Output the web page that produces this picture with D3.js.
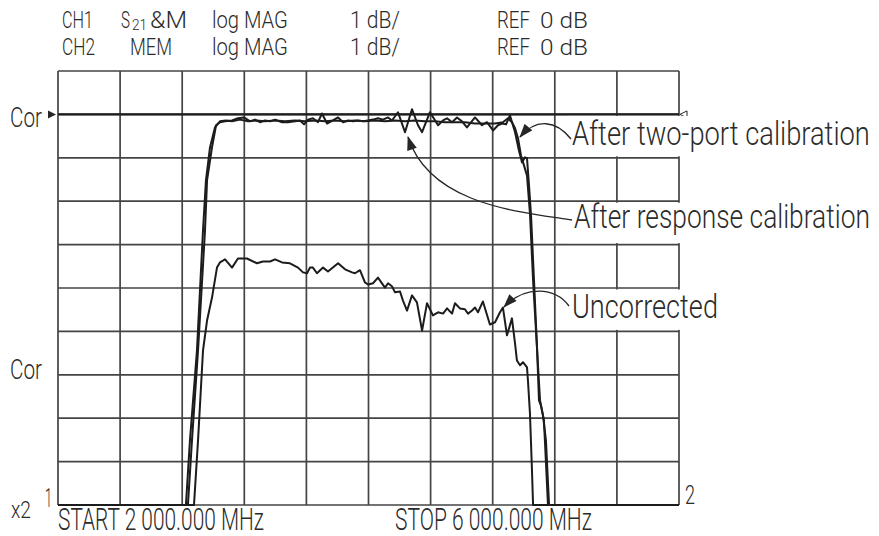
<!DOCTYPE html>
<html><head><meta charset="utf-8">
<script src="https://cdn.jsdelivr.net/npm/d3@7/dist/d3.min.js"></script>
<style>
body{margin:0;background:#fff}
svg{display:block}
text{font-family:Roboto,"Liberation Sans",sans-serif;font-weight:300;fill:#2b2b2b}
</style>
</head><body>
<svg id="chart" width="879" height="536"></svg>
<script>
// ---------- data ----------
const startMHz = 2000, stopMHz = 6000;
const freqGridMHz = [2000, 2400, 2800, 3200, 3600, 4000, 4400, 4800, 5200, 5600, 6000];
const dbGrid = [-9, -8, -7, -6, -5, -4, -3, -2, -1, 0, 1];
const ch1RefDb = 0;
const ch2RefDb = -6;
const bottomDb = -9;

// CH1 S21 after two-port calibration (dB vs MHz)
const twoPortMHz = [2000, 2824, 2850, 2895, 2934, 2953, 2979, 3011, 3043, 3082, 3121, 3172, 3224, 3275, 3333, 3398, 3462, 3527, 3591, 3655, 3720, 3784, 3849, 3913, 3977, 4042, 4106, 4171, 4235, 4299, 4364, 4428, 4493, 4557, 4621, 4686, 4750, 4815, 4866, 4898, 4924, 4944, 4963, 4982, 5002, 5021, 5040, 5060, 5085, 5105, 5130, 5156, 6000];
const twoPortDb = [-9, -9, -7.51, -5.44, -2.67, -1.52, -0.76, -0.30, -0.16, -0.14, -0.16, -0.12, -0.16, -0.14, -0.16, -0.14, -0.16, -0.14, -0.16, -0.14, -0.16, -0.14, -0.16, -0.14, -0.16, -0.14, -0.16, -0.14, -0.16, -0.14, -0.16, -0.16, -0.18, -0.18, -0.18, -0.21, -0.21, -0.21, -0.18, -0.09, -0.18, -0.32, -0.55, -0.94, -1.18, -1.41, -2.28, -3.82, -5.37, -6.59, -7.05, -9, -9];

// CH1 after response calibration
const responseMHz = [2000, 2837, 2863, 2902, 2947, 2960, 2992, 3018, 3043, 3076, 3121, 3159, 3198, 3237, 3269, 3301, 3333, 3366, 3398, 3443, 3481, 3527, 3559, 3585, 3610, 3642, 3675, 3700, 3733, 3771, 3804, 3836, 3868, 3900, 3932, 3965, 3997, 4029, 4061, 4093, 4126, 4151, 4190, 4235, 4280, 4319, 4345, 4396, 4448, 4480, 4506, 4538, 4570, 4602, 4634, 4686, 4731, 4763, 4802, 4834, 4860, 4886, 4911, 4944, 4969, 4989, 5008, 5021, 5034, 5047, 5066, 5085, 5098, 5111, 5124, 5143, 5163, 6000];
const responseDb = [-9, -9, -7.51, -5.44, -2.67, -1.52, -0.76, -0.25, -0.18, -0.16, -0.14, -0.09, -0.07, -0.16, -0.12, -0.18, -0.14, -0.16, -0.12, -0.18, -0.18, -0.16, -0.14, -0.23, -0.12, -0.09, -0.18, 0.02, -0.21, -0.14, -0.07, -0.18, -0.14, -0.16, -0.14, -0.16, -0.14, -0.12, -0.09, -0.12, -0.07, -0.14, 0.05, -0.41, 0.12, -0.25, -0.41, 0.05, -0.25, -0.14, -0.09, -0.18, -0.07, -0.16, -0.30, -0.07, -0.25, -0.18, -0.37, -0.25, -0.21, -0.23, -0.02, -0.41, -0.83, -1.11, -0.99, -1.01, -1.64, -2.33, -3.82, -5.32, -6.59, -6.71, -6.94, -7.51, -9, -9];

// CH2 memory: uncorrected
const uncorrMHz = [2000, 2876, 2902, 2934, 2960, 2992, 3024, 3043, 3076, 3121, 3159, 3217, 3282, 3320, 3366, 3398, 3443, 3494, 3546, 3578, 3604, 3623, 3642, 3668, 3707, 3739, 3804, 3849, 3894, 3913, 3945, 3977, 3997, 4029, 4061, 4106, 4126, 4151, 4171, 4203, 4222, 4248, 4280, 4312, 4345, 4377, 4415, 4448, 4480, 4506, 4538, 4557, 4589, 4621, 4641, 4667, 4686, 4705, 4737, 4782, 4815, 4847, 4866, 4892, 4924, 4944, 4956, 4976, 4995, 5021, 5027, 5040, 5053, 5060, 6000];
const uncorrDb = [-9, -9, -7.51, -5.44, -4.75, -4.22, -3.53, -3.41, -3.34, -3.53, -3.32, -3.32, -3.43, -3.39, -3.39, -3.34, -3.41, -3.43, -3.53, -3.64, -3.66, -3.53, -3.53, -3.66, -3.53, -3.62, -3.43, -3.57, -3.64, -3.66, -3.59, -3.87, -3.92, -3.89, -3.76, -3.99, -3.89, -3.96, -4.10, -4.08, -4.29, -4.52, -4.17, -4.33, -4.98, -4.35, -4.63, -4.56, -4.59, -4.47, -4.59, -4.35, -4.47, -4.49, -4.59, -4.52, -4.45, -4.56, -4.31, -4.84, -4.79, -4.56, -4.45, -5.09, -4.70, -5.28, -5.67, -5.78, -5.71, -5.83, -6.13, -6.89, -8.20, -9, -9];

// text content
const headerRow1 = ["CH1", "S", "21", "&M", "log MAG", "1 dB/", "REF", "0 dB"];
const headerRow2 = ["CH2", "MEM", "log MAG", "1 dB/", "REF", "0 dB"];
const refLabels = ["Cor", "Cor"];
const footerLabels = ["START 2 000.000 MHz", "STOP 6 000.000 MHz"];
const markerLabels = ["x2", "1", "2"];
const annotationLabels = ["After two-port calibration", "After response calibration", "Uncorrected"];

// ---------- drawing ----------
const svg = d3.select("#chart");
const x = d3.scaleLinear().domain([startMHz, stopMHz]).range([58, 679]);
const y = d3.scaleLinear().domain([bottomDb, 1]).range([505, 71]).clamp(true);
const ink = "#262626";

// grid
const grid = svg.append("g").attr("stroke", "#444").attr("stroke-width", 1.7);
grid.selectAll("line.v").data(freqGridMHz).join("line")
  .attr("x1", d => x(d)).attr("x2", d => x(d)).attr("y1", y(1)).attr("y2", y(bottomDb));
grid.selectAll("line.h").data(dbGrid).join("line")
  .attr("y1", d => y(d)).attr("y2", d => y(d)).attr("x1", x(startMHz)).attr("x2", x(stopMHz));

// CH1 reference line
svg.append("line").attr("x1", x(startMHz)).attr("x2", x(stopMHz))
  .attr("y1", y(ch1RefDb)).attr("y2", y(ch1RefDb)).attr("stroke", "#1e1e1e").attr("stroke-width", 2.2);
const ry = y(ch1RefDb);
svg.append("path").attr("d", `M${x(startMHz) - 10},${ry - 4}L${x(startMHz) - 2},${ry}L${x(startMHz) - 10},${ry + 4}Z`).attr("fill", ink);
svg.append("path").attr("d", `M${x(stopMHz) + 1},${ry}L${x(stopMHz) + 8},${ry - 3.5}L${x(stopMHz) + 8},${ry + 3.5}Z`)
  .attr("fill", "#fff").attr("stroke", ink).attr("stroke-width", 1);

// traces
const line = d3.line().x(d => x(d[0])).y(d => y(d[1])).curve(d3.curveLinear);
const traces = [
  d3.zip(uncorrMHz, uncorrDb),
  d3.zip(responseMHz, responseDb),
  d3.zip(twoPortMHz, twoPortDb)
];
svg.append("g").selectAll("path").data(traces).join("path")
  .attr("d", line).attr("fill", "none").attr("stroke", "#1c1c1c")
  .attr("stroke-width", 2).attr("stroke-linejoin", "round");

// white label backgrounds
const maskBands = [[ch1RefDb, -1], [-2, -3], [-4, -5]];
svg.append("g").selectAll("rect").data(maskBands).join("rect")
  .attr("x", 568).attr("width", 311)
  .attr("y", d => y(d[0]) + 1.5).attr("height", d => y(d[1]) - y(d[0]) - 3)
  .attr("fill", "#fff");

// arrow marker
svg.append("defs").append("marker").attr("id", "ah")
  .attr("viewBox", "0 0 14 10").attr("refX", 13).attr("refY", 5)
  .attr("markerWidth", 15).attr("markerHeight", 10).attr("markerUnits", "userSpaceOnUse")
  .attr("orient", "auto")
  .append("path").attr("d", "M0,0L14,5L0,10Z").attr("fill", ink);

const arrows = [
  "M571,139 C556,120 536,118 520,137",
  "M572,220 C520,212 430,205 408,137",
  "M569,306 C555,287 525,285 504,307"
];
svg.append("g").selectAll("path").data(arrows).join("path")
  .attr("d", d => d).attr("fill", "none").attr("stroke", ink).attr("stroke-width", 1.3)
  .attr("marker-end", "url(#ah)");

// text helper: condensed look via horizontal scale so that the box matches the target width
function label(str, px, py, size, width) {
  const t = svg.append("text").attr("x", 0).attr("y", 0).attr("font-size", size).text(str);
  const natural = t.node().getComputedTextLength();
  const sx = width ? width / natural : 1;
  t.attr("transform", `translate(${px},${py}) scale(${sx},1)`);
  return t;
}

// header
const row1X = [62, 121, 132, 150, 212, 350, 497, 540];
const row1W = [31, 9, 15, 37, 76, 50, 33, 48];
headerRow1.forEach((s, i) => {
  const isSub = s === "21";
  label(s, row1X[i], isSub ? 30 : 27.5, isSub ? 14 : 23, row1W[i]);
});
const row2X = [62, 130, 212, 350, 497, 540];
const row2W = [33, 42, 76, 50, 33, 48];
headerRow2.forEach((s, i) => label(s, row2X[i], 55, 23, row2W[i]));

// reference labels
label(refLabels[0], 10, 127, 27, 32);
label(refLabels[1], 10, 379, 27, 32);

// markers
label(markerLabels[0], 11, 518, 24, 20);
label(markerLabels[1], 45, 507, 26, 7);
label(markerLabels[2], 685, 504, 25, 10);

// footer
label(footerLabels[0], 58, 530, 31, 206);
label(footerLabels[1], 395, 530, 31, 197);

// annotations
label(annotationLabels[0], 572, 145, 33, 298);
label(annotationLabels[1], 574, 228, 33, 296);
label(annotationLabels[2], 572, 318, 33, 146);
</script>
</body></html>
